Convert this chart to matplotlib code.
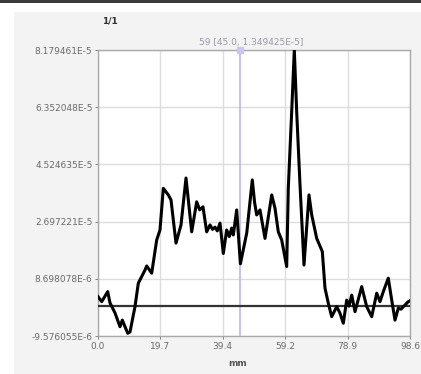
import matplotlib
matplotlib.use("Agg")
import matplotlib.pyplot as plt
from matplotlib.patches import Rectangle
import numpy as np

# Profile along the scan (position in mm, signal in units of 1e-5)
pos_mm = [0.0, 1.17, 3.07, 3.79, 5.37, 6.95, 7.68, 9.39, 10.11, 11.69, 12.74,
          14.85, 15.39, 16.97, 18.55, 19.59, 20.64, 22.22, 23.07, 24.65, 26.23,
          27.81, 29.61, 31.19, 32.14, 33.18, 34.35, 35.4, 36.2, 36.97, 37.7,
          38.56, 39.6, 40.67, 41.49, 42.25, 42.76, 43.83, 45.0, 47.0, 48.76,
          49.5, 50.15, 51.2, 52.78, 54.9, 55.94, 56.98, 58.05, 59.63, 60.14,
          61.21, 62.04, 62.79, 63.84, 65.1, 66.68, 67.54, 69.12, 70.89, 71.74,
          72.78, 73.86, 75.44, 76.48, 77.52, 78.6, 79.32, 80.18, 81.22, 83.34,
          84.92, 86.5, 88.08, 89.12, 90.16, 91.74, 92.82, 93.86, 94.9, 95.76,
          98.06, 98.6]
signal_e5 = [0.30, 0.14, 0.46, 0.10, -0.22, -0.66, -0.45, -0.87, -0.83, -0.02, 0.73,
             1.15, 1.28, 1.05, 2.11, 2.43, 3.76, 3.55, 3.39, 2.01, 2.59,
             4.09, 2.37, 3.33, 3.07, 3.17, 2.37, 2.59, 2.45, 2.52, 2.40,
             2.65, 1.68, 2.43, 2.22, 2.49, 2.27, 3.07, 1.349425, 2.33, 4.03,
             3.30, 2.91, 3.07, 2.16, 3.55, 3.12, 2.37, 2.11, 1.26, 3.77,
             6.21, 8.18, 6.21, 3.87, 1.31, 3.55, 2.91, 2.16, 1.74, 0.57,
             0.09, -0.34, -0.02, -0.23, -0.55, 0.19, 0.0, 0.35, -0.18, 0.62,
             -0.02, -0.34, 0.41, 0.14, 0.46, 0.89, 0.19, -0.45, -0.07, -0.10,
             0.14, 0.17]

x_ticks = [0.0, 19.7, 39.4, 59.2, 78.9, 98.6]
x_tick_labels = ["0.0", "19.7", "39.4", "59.2", "78.9", "98.6"]
y_ticks = [8.179461e-5, 6.352048e-5, 4.524635e-5, 2.697221e-5, 8.698078e-6, -9.576055e-6]
y_tick_labels = ["8.179461E-5", "6.352048E-5", "4.524635E-5", "2.697221E-5",
                 "8.698078E-6", "-9.576055E-6"]
cursor_x = 45.0
cursor_label = "59 [45.0, 1.349425E-5]"

W, H = 421, 374
fig = plt.figure(figsize=(W / 100, H / 100), dpi=100)
fig.patch.set_facecolor("white")

# panel backdrop and top strip
fig.patches.append(Rectangle((14 / W, 0), 1 - 14 / W, 1 - 12 / H,
                             transform=fig.transFigure, facecolor="#f4f3f4",
                             edgecolor="none", zorder=-10))
fig.patches.append(Rectangle((0, 1 - 3 / H), 1, 3 / H, transform=fig.transFigure,
                             facecolor="#3a3a3a", edgecolor="none", zorder=-9))

ax = fig.add_axes([98 / W, 1 - 336 / H, 312 / W, 286 / H])
ax.set_facecolor("white")
ax.set_xlim(x_ticks[0], x_ticks[-1])
ax.set_ylim(y_ticks[-1], y_ticks[0])

ax.set_xticks(x_ticks)
ax.set_xticklabels(x_tick_labels)
ax.set_yticks(y_ticks)
ax.set_yticklabels(y_tick_labels)
ax.tick_params(axis="both", labelsize=6.5, colors="#6a6a6a", length=2, width=0.6,
               pad=2)
ax.grid(True, color="#dddddd", linewidth=1.0)
for s in ax.spines.values():
    s.set_color("#aaaaaa")
    s.set_linewidth(1.0)

x = np.array(pos_mm)
y = np.array(signal_e5) * 1e-5
ax.axhline(0.0, color="#333333", linewidth=1.6, zorder=3)
ax.axvline(cursor_x, color="#b9b9e6", linewidth=1.2, zorder=2)
ax.plot(x, y, color="black", linewidth=2.2, zorder=4, solid_joinstyle="round")
ax.plot([cursor_x], [y_ticks[0]], marker="s", markersize=4, color="#c8c8ec",
        clip_on=False, zorder=5)

fig.text(238 / W, 1 - 364 / H, "mm", fontsize=6.5, fontweight="bold",
         color="#555555", ha="center", va="center")
fig.text(102 / W, 1 - 21 / H, "1/1", fontsize=6.5, fontweight="bold",
         color="#333333", ha="left", va="center")
fig.text(251 / W, 1 - 42 / H, cursor_label, fontsize=6.5, color="#9a9aaa",
         ha="center", va="center")

fig.savefig("out.png", dpi=100, facecolor=fig.get_facecolor())
